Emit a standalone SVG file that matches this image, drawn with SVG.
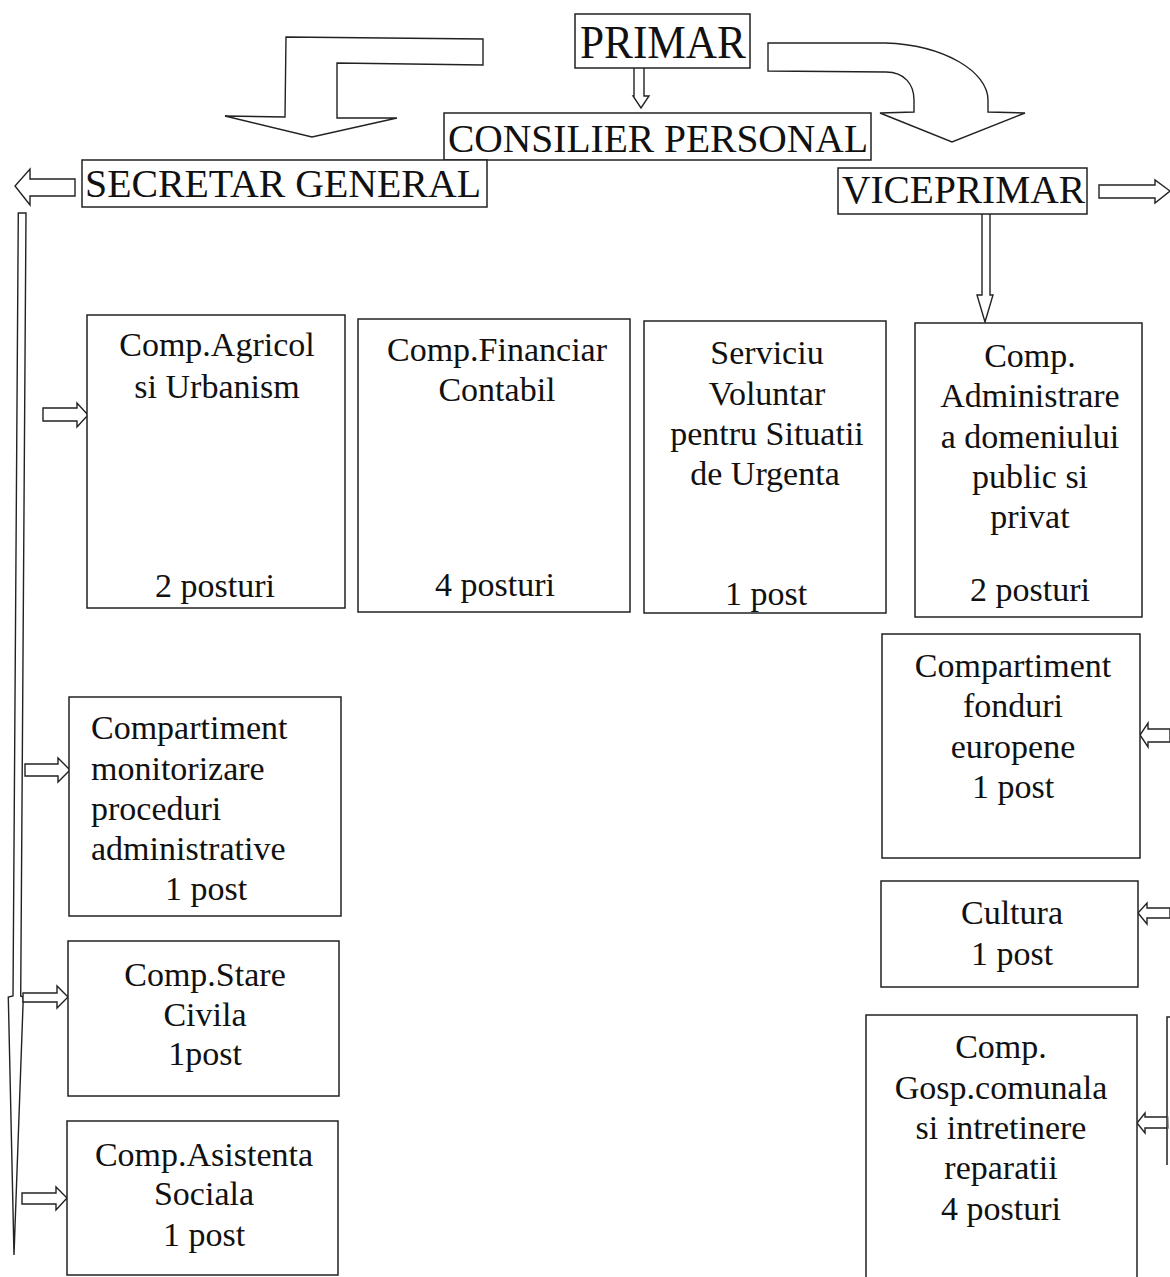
<svg xmlns="http://www.w3.org/2000/svg" width="1170" height="1277" viewBox="0 0 1170 1277">
<style>
.box{fill:#fff;stroke:#222;stroke-width:1.5}
.arr{fill:#fff;stroke:#222;stroke-width:1.4;stroke-linejoin:miter}
text{font-family:"Liberation Serif","Times New Roman",serif;fill:#111}
.h{font-size:40px}
.t{font-size:34px;text-anchor:middle}
.l{font-size:34px}
</style>
<rect width="1170" height="1277" fill="#fff"/>
<g id="connectors">
<polygon class="arr" points="286,37 483,39 483,65 337,63 337,118 397,118 312,137 225,116 285,117"/>
<path class="arr" d="M768,43 L885,43 C945,45 988,72 988,100 L988,112 L1025,113 L952,142 L880,113 L914,112 L914,100 C914,85 905,72 886,72 L768,71 Z"/>
<polygon class="arr" points="634,64 644,64 644,96 649,96 641,108 633,96 634,96"/>
<polygon class="arr" points="75,179 75,196 30,196 30,205 15,186 30,169 30,179"/>
<polygon class="arr" points="1099,185 1155,185 1155,180 1170,191 1155,203 1155,198 1099,198"/>
<polygon class="arr" points="982,210 990,210 990,295 993,295 985,322 977,295 982,295"/>
<polygon class="arr" points="18.3,213 26,213 20.7,996 23.3,997 14,1255 8.3,997 13,996"/>
<polygon class="arr" points="43,408 77,408 77,403 88,415 77,427 77,421 43,421"/>
<polygon class="arr" points="25,764 58,764 58,758 70,770 58,782 58,776 25,776"/>
<polygon class="arr" points="23,993 57,993 57,986 68,997 57,1008 57,1002 23,1002"/>
<polygon class="arr" points="22,1193 56,1193 56,1187 67,1198 56,1210 56,1204 22,1204"/>
<polygon class="arr" points="1170,729 1148,729 1148,723 1140,735 1148,747 1148,742 1170,742"/>
<polygon class="arr" points="1170,908 1147,908 1147,903 1138,913 1147,924 1147,918 1170,918"/>
<polygon class="arr" points="1168,1117 1145,1117 1145,1113 1137,1123 1145,1133 1145,1128 1168,1128"/>
</g>
<g id="primar"><rect class="box" x="575" y="14" width="175" height="54"/><text x="580" y="58" font-size="46" textLength="166" lengthAdjust="spacingAndGlyphs">PRIMAR</text></g>
<g id="consilier"><rect class="box" x="444" y="113" width="427" height="47"/><text class="h" x="448" y="152" font-size="42" textLength="420" lengthAdjust="spacingAndGlyphs">CONSILIER PERSONAL</text></g>
<g id="secretar"><rect class="box" x="82" y="160" width="405" height="47"/><text class="h" x="85" y="197" textLength="396" lengthAdjust="spacingAndGlyphs">SECRETAR GENERAL</text></g>
<g id="viceprimar"><rect class="box" x="838" y="168" width="249" height="46"/><text class="h" x="842" y="203" textLength="243" lengthAdjust="spacingAndGlyphs">VICEPRIMAR</text></g>
<g id="agricol"><rect class="box" x="87" y="315" width="258" height="293"/>
<text class="t" x="217" y="356">Comp.Agricol</text><text class="t" x="217" y="398">si Urbanism</text><text class="t" x="215" y="597">2 posturi</text></g>
<g id="financiar"><rect class="box" x="358" y="319" width="272" height="293"/>
<text class="t" x="497" y="361">Comp.Financiar</text><text class="t" x="497" y="401">Contabil</text><text class="t" x="495" y="596">4 posturi</text></g>
<g id="voluntar"><rect class="box" x="644" y="321" width="242" height="292"/>
<text class="t" x="767" y="364">Serviciu</text><text class="t" x="767" y="405">Voluntar</text><text class="t" x="767" y="445">pentru Situatii</text><text class="t" x="765" y="485">de Urgenta</text><text class="t" x="766" y="605">1 post</text></g>
<g id="administrare"><rect class="box" x="915" y="323" width="227" height="294"/>
<text class="t" x="1030" y="367">Comp.</text><text class="t" x="1030" y="407">Administrare</text><text class="t" x="1030" y="448">a domeniului</text><text class="t" x="1030" y="488">public si</text><text class="t" x="1030" y="528">privat</text><text class="t" x="1030" y="601">2 posturi</text></g>
<g id="monitorizare"><rect class="box" x="69" y="697" width="272" height="219"/>
<text class="l" x="91" y="739">Compartiment</text><text class="l" x="91" y="780">monitorizare</text><text class="l" x="91" y="820">proceduri</text><text class="l" x="91" y="860">administrative</text><text class="t" x="206" y="900">1 post</text></g>
<g id="starecivila"><rect class="box" x="68" y="941" width="271" height="155"/>
<text class="t" x="205" y="986">Comp.Stare</text><text class="t" x="205" y="1026">Civila</text><text class="t" x="205" y="1065">1post</text></g>
<g id="asistenta"><rect class="box" x="67" y="1121" width="271" height="154"/>
<text class="t" x="204" y="1166">Comp.Asistenta</text><text class="t" x="204" y="1205">Sociala</text><text class="t" x="204" y="1246">1 post</text></g>
<g id="fonduri"><rect class="box" x="882" y="634" width="258" height="224"/>
<text class="t" x="1013" y="677">Compartiment</text><text class="t" x="1013" y="717">fonduri</text><text class="t" x="1013" y="758">europene</text><text class="t" x="1013" y="798">1 post</text></g>
<g id="cultura"><rect class="box" x="881" y="881" width="257" height="106"/>
<text class="t" x="1012" y="924">Cultura</text><text class="t" x="1012" y="965">1 post</text></g>
<g id="gosp"><rect class="box" x="866" y="1015" width="271" height="270"/>
<text class="t" x="1001" y="1058">Comp.</text><text class="t" x="1001" y="1099">Gosp.comunala</text><text class="t" x="1001" y="1139">si intretinere</text><text class="t" x="1001" y="1179">reparatii</text><text class="t" x="1001" y="1220">4 posturi</text></g>
<g id="partial"><path class="box" d="M1167,1165 L1167,1017 L1172,1017" fill="none"/></g>
</svg>
